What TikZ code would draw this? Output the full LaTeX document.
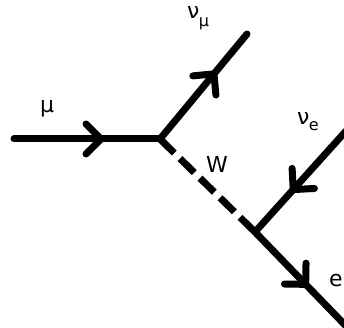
\documentclass[tikz,border=0pt]{standalone}
\usepackage{fontspec}
\setmainfont{DejaVu Sans}
\usetikzlibrary{decorations.markings}
\begin{document}
\begin{tikzpicture}[x=1pt,y=-1pt,
  fermion/.style={line width=7pt, line cap=round, line join=round,
    postaction={decorate},
    decoration={markings, mark=at position #1 with {\draw[line width=7pt,line cap=round,line join=round,solid] (-15pt,15pt) -- (0pt,0pt) -- (-15pt,-15pt);}}},
  boson/.style={line width=7pt, line cap=butt, dash pattern=on 20pt off 8pt},
  lbl/.style={font=\fontsize{22}{22}\selectfont, inner sep=0pt, anchor=base west},
  sub/.style={font=\fontsize{16}{16}\selectfont, inner sep=0pt, anchor=base west},
]
\useasboundingbox (0,0) rectangle (344,328);
\coordinate (mu0) at (14,139);
\coordinate (v1) at (160,139);
\coordinate (numu) at (247,34);
\coordinate (v2) at (255,232);
\coordinate (nue) at (346,131);
\coordinate (eout) at (346,326);
\draw[fermion=0.596] (mu0) -- (v1);
\draw[fermion=0.62] (v1) -- (numu);
\draw[boson] (v1) -- (v2);
\draw[fermion=0.58] (nue) -- (v2);
\draw[fermion=0.557] (v2) -- (eout);
\node[lbl] (lmu) at (40,113) {μ};
\node[lbl] (lnumu) at (187,19) {ν};
\node[sub] (lnumusub) at ([xshift=-1pt,yshift=-8pt]lnumu.base east) {μ};
\node[lbl] (lnue) at (297,125) {ν};
\node[sub] (lnuesub) at ([xshift=-1pt,yshift=-6pt]lnue.base east) {e};
\node[lbl] (lw) at (206,172) {W};
\node[lbl] (le) at (329,286) {e};
\end{tikzpicture}
\end{document}
